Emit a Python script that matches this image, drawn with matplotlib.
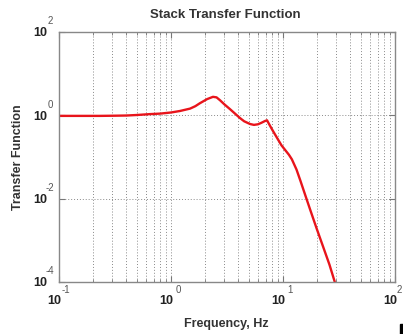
import numpy as np
import matplotlib
matplotlib.use('Agg')
from matplotlib import pyplot as plt
from matplotlib.patches import Rectangle

# values (frequency in Hz, transfer function magnitude)
freq = [0.1, 0.15, 0.23, 0.32, 0.4, 0.5, 0.65, 0.8, 1.0, 1.2, 1.48, 1.65, 1.81, 2.1,
        2.37, 2.55, 2.74, 3.0, 3.36, 3.7, 4.13, 4.5, 5.07, 5.5, 5.98, 6.4, 6.9,
        7.2, 7.66, 8.1, 8.9, 9.7, 10.5, 11.3, 12.0, 13.2, 14.3, 15.7, 17.5, 20.0,
        22.5, 26.0, 29.0]
tf = [0.97, 0.97, 0.97, 0.98, 0.99, 1.02, 1.07, 1.10, 1.17, 1.27, 1.45, 1.66, 1.95, 2.45,
      2.78, 2.7, 2.3, 1.83, 1.41, 1.12, 0.86, 0.72, 0.62, 0.59, 0.61, 0.66, 0.73,
      0.76, 0.56, 0.43, 0.28, 0.19, 0.145, 0.113, 0.088, 0.05, 0.027, 0.0128, 0.0054, 0.0019,
      0.00078, 0.00026, 0.0001]

xticks = [0.1, 1, 10, 100]
xexp = ['-1', '0', '1', '2']
yticks = [1e-4, 1e-2, 1, 1e2]
yexp = ['-4', '-2', '0', '2']

plt.rcParams['font.family'] = ['Liberation Sans', 'DejaVu Sans']

W, H = 403, 334
fig = plt.figure(figsize=(W / 100, H / 100), dpi=100)
ax = fig.add_axes([59 / W, 1 - 282 / H, 336 / W, 250 / H])

ax.plot(freq, tf, color='#e8141b', lw=1.7, solid_capstyle='round', solid_joinstyle='round')
ax.set_xscale('log')
ax.set_yscale('log')
ax.set_xlim(0.1, 100)
ax.set_ylim(1e-4, 1e2)
ax.set_xticks(xticks)
ax.set_yticks(yticks)
ax.yaxis.set_minor_locator(matplotlib.ticker.NullLocator())
ax.xaxis.set_minor_locator(matplotlib.ticker.LogLocator(base=10, subs=np.arange(2, 10)))
ax.set_xticklabels([])
ax.set_yticklabels([])
ax.xaxis.set_minor_formatter(matplotlib.ticker.NullFormatter())

ax.grid(True, which='both', axis='x', ls=(0, (1, 2)), color='#8a8a8a', lw=0.7)
ax.grid(True, which='major', axis='y', ls=(0, (1, 2)), color='#8a8a8a', lw=0.7)
ax.tick_params(which='both', direction='in', top=True, right=True, color='#777777')
ax.tick_params(which='major', length=4)
ax.tick_params(which='minor', length=2)
for s in ax.spines.values():
    s.set_color('#888888')
    s.set_linewidth(1.0)

# old matlab style "10" with exponent above right
for t, e in zip(xticks, xexp):
    xd = ax.transData.transform((t, 1))[0]
    ax.text(xd - 4.5, H - 301, '10', transform=None, ha='center', va='center',
            fontsize=9, fontweight='bold', color='#222222')
    ax.text(min(xd + 7, 399), H - 290, e, transform=None, ha='center', va='center',
            fontsize=7, color='#555555')
for t, e in zip(yticks, yexp):
    yd = ax.transData.transform((1, t))[1]
    ax.text(40, yd - 1.5, '10', transform=None, ha='center', va='center',
            fontsize=9, fontweight='bold', color='#222222')
    ax.text(50, yd + 10.5, e, transform=None, ha='center', va='center',
            fontsize=7, color='#555555')

fig.text(225 / W, 1 - 15 / H, 'Stack Transfer Function', ha='center', va='center',
         fontsize=9.5, fontweight='bold', color='#333333')
fig.text(18 / W, 1 - 157 / H, 'Transfer Function', ha='center', va='center',
         rotation=90, fontsize=9, fontweight='bold', color='#333333')
fig.text(226 / W, 1 - 324 / H, 'Frequency, Hz', ha='center', va='center',
         fontsize=9, fontweight='bold', color='#333333')

fig.patches.append(Rectangle((400 / W, 0), 3 / W, 10 / H, transform=fig.transFigure,
                             color='black', figure=fig))

fig.savefig('out.png', dpi=100)
